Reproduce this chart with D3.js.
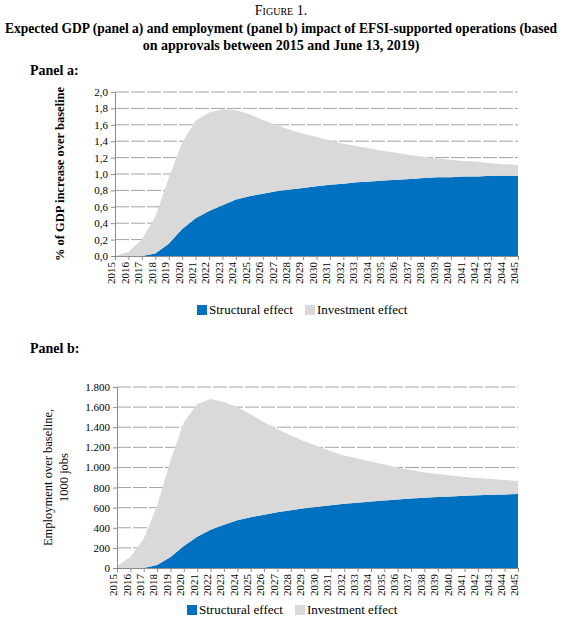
<!DOCTYPE html>
<html><head><meta charset="utf-8">
<script src="https://cdn.jsdelivr.net/npm/d3@7"></script>
<style>body{margin:0;background:#fff}svg text{font-family:"Liberation Serif","DejaVu Serif",serif !important}</style>
</head><body><svg id="c" width="563" height="634"></svg>
<script>
// years shared by both panels
var years = d3.range(2015, 2046);

// panel a: % of GDP
var gdpStructural = [0,0,0,0.03,0.15,0.33,0.46,0.55,0.62,0.69,0.73,0.76,0.79,0.81,0.83,0.85,0.87,0.88,0.90,0.91,0.92,0.93,0.94,0.95,0.96,0.96,0.97,0.97,0.98,0.98,0.98];
var gdpInvestment = [0,0.05,0.2,0.45,0.80,1.05,1.19,1.20,1.17,1.09,1.00,0.90,0.81,0.73,0.66,0.60,0.54,0.49,0.44,0.40,0.36,0.33,0.29,0.26,0.23,0.21,0.19,0.18,0.15,0.14,0.13];
var gdpTicks = [0,0.2,0.4,0.6,0.8,1.0,1.2,1.4,1.6,1.8,2.0];

// panel b: 1000 jobs
var jobsStructural = [0,0,0,30,110,220,310,380,430,475,505,530,555,575,595,610,625,638,650,662,672,682,690,698,705,712,718,724,728,732,735];
var jobsInvestment = [20,110,290,590,960,1230,1320,1300,1220,1125,1025,920,825,745,665,600,535,482,440,398,358,318,285,252,230,208,187,171,157,143,130];
var jobsTicks = [0,200,400,600,800,1000,1200,1400,1600,1800];

var seriesNames = ["Structural effect", "Investment effect"];
var colors = ["#0070c0", "#d9d9d9"];

var svg = d3.select("#c");

svg.append("text").attr("x", 281).attr("y", 15).attr("text-anchor", "middle")
    .style("font-size", "14px").style("font-variant", "small-caps").text("Figure 1.");
svg.append("text").attr("x", 281).attr("y", 33).attr("text-anchor", "middle")
    .attr("textLength", 552).attr("lengthAdjust", "spacingAndGlyphs")
    .style("font-size", "14px").style("font-weight", "bold")
    .text("Expected GDP (panel a) and employment (panel b) impact of EFSI-supported operations (based");
svg.append("text").attr("x", 281).attr("y", 50).attr("text-anchor", "middle")
    .style("font-size", "14px").style("font-weight", "bold")
    .text("on approvals between 2015 and June 13, 2019)");

function panel(o) {
    var x = d3.scaleLinear().domain([2015, 2045]).range([o.x0, o.x1]);
    var y = d3.scaleLinear().domain([0, o.max]).range([o.y0, o.y1]);
    var g = svg.append("g");

    g.append("text").attr("x", 30).attr("y", o.labelY).style("font-size", "14px")
        .style("font-weight", "bold").text(o.label);

    // grid
    g.selectAll(".grid").data(o.ticks.slice(1)).enter().append("line")
        .attr("x1", o.x0).attr("x2", o.x1)
        .attr("y1", function (d) { return y(d); }).attr("y2", function (d) { return y(d); })
        .attr("stroke", "#8c8c8c").attr("stroke-width", 0.8).attr("stroke-dasharray", "14,2");

    var rows = years.map(function (yr, i) { return { year: yr, s: o.s[i], inv: o.inv[i] }; });
    var stack = d3.stack().keys(["s", "inv"])(rows);
    var area = d3.area()
        .x(function (d) { return x(d.data.year); })
        .y0(function (d) { return y(d[0]); })
        .y1(function (d) { return y(d[1]); });
    g.selectAll(".layer").data(stack).enter().append("path")
        .attr("d", area).attr("fill", function (d, i) { return colors[i]; });

    var ya = g.append("g").attr("transform", "translate(" + o.x0 + ",0)")
        .call(d3.axisLeft(y).tickValues(o.ticks).tickFormat(o.fmt).tickSize(4));
    var xa = g.append("g").attr("transform", "translate(0," + o.y0 + ")")
        .call(d3.axisBottom(x).tickValues(years).tickFormat(d3.format("d")).tickSize(4));
    [ya, xa].forEach(function (a) {
        a.attr("font-family", null);
        a.selectAll("path,line").attr("stroke", "#8c8c8c");
        a.selectAll("text").style("font-size", "11px").attr("fill", "#000");
    });
    xa.selectAll("text").attr("transform", "rotate(-90)").attr("text-anchor", "end")
        .attr("x", -6).attr("y", -4).attr("dy", "0.35em").attr("dx", 0);

    var yl = g.append("text").attr("text-anchor", "middle").style("font-size", "12.5px")
        .attr("transform", "translate(" + o.ylx + "," + ((o.y0 + o.y1) / 2) + ") rotate(-90)");
    o.ylabel.forEach(function (t, i) {
        yl.append("tspan").attr("x", 0).attr("dy", i ? 16 : 0).text(t);
    });
    if (o.bold) yl.style("font-weight", "bold");

    var lg = g.append("g").attr("transform", "translate(" + o.legX + "," + o.legY + ")");
    seriesNames.forEach(function (n, i) {
        var off = i * 108;
        lg.append("rect").attr("x", off).attr("y", -9).attr("width", 10).attr("height", 10)
            .attr("fill", colors[i]);
        lg.append("text").attr("x", off + 12).attr("y", 0).style("font-size", "13px").text(n);
    });
}

panel({ label: "Panel a:", labelY: 75, x0: 115, x1: 518, y0: 256, y1: 92, max: 2,
    ticks: gdpTicks, fmt: function (d) { return d3.format(".1f")(d).replace(".", ","); },
    s: gdpStructural, inv: gdpInvestment, ylx: 64, bold: true,
    ylabel: ["% of GDP increase over baseline"], legX: 197, legY: 314 });

panel({ label: "Panel b:", labelY: 353, x0: 117, x1: 518, y0: 568, y1: 387, max: 1800,
    ticks: jobsTicks, fmt: function (d) { return d3.format(",")(d).replace(",", "."); },
    s: jobsStructural, inv: jobsInvestment, ylx: 52, bold: false,
    ylabel: ["Employment over baseline,", "1000  jobs"], legX: 187, legY: 614 });
</script></body></html>
